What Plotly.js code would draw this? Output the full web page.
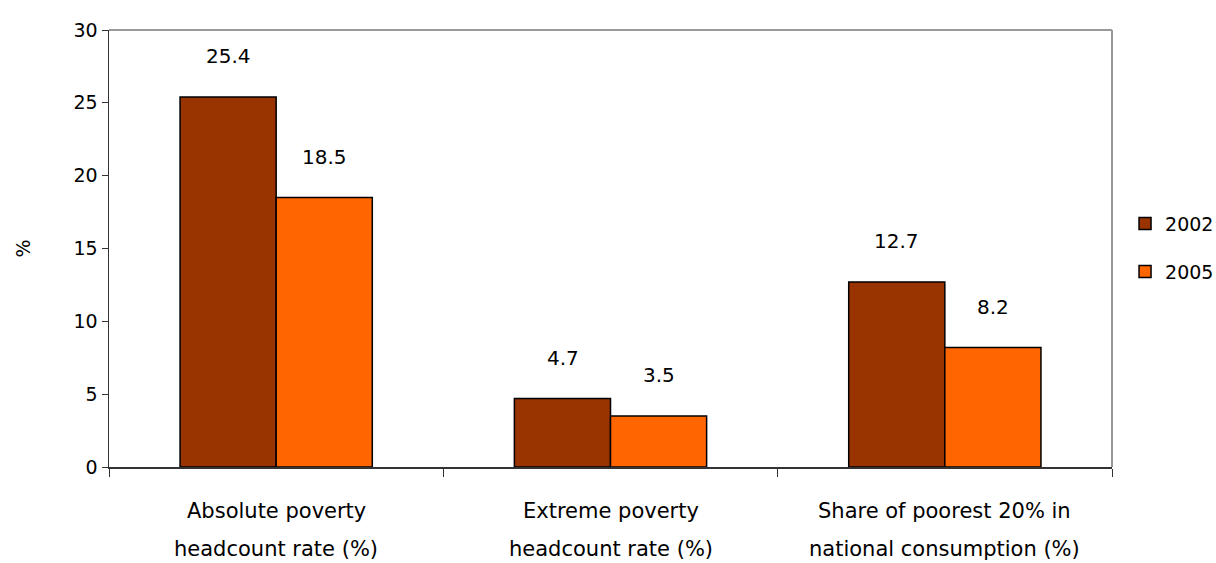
<!DOCTYPE html>
<html><head><meta charset="utf-8">
<script src="https://cdn.plot.ly/plotly-3.0.1.min.js"></script>
<style>body{margin:0;background:#fff}#c{width:1216px;height:563px}</style>
</head><body><div id="c"></div>
<script>
const categories = ["Absolute poverty headcount rate (%)", "Extreme poverty headcount rate (%)", "Share of poorest 20% in national consumption (%)"];
const labelLine1 = ["Absolute poverty", "Extreme poverty", "Share of poorest 20% in"];
const labelLine2 = ["headcount rate (%)", "headcount rate (%)", "national consumption (%)"];
const seriesNames = ["2002", "2005"];
const values2002 = [25.4, 4.7, 12.7];
const values2005 = [18.5, 3.5, 8.2];
const yTicks = [0, 5, 10, 15, 20, 25, 30];

const FONT = "DejaVu Sans";
const colors = ["#993300", "#FF6600"];
const allValues = [values2002, values2005];
const legendIds = ["legend", "legend2"];

const traces = seriesNames.map((n, i) => ({
  type: "bar", name: n, x: categories, y: allValues[i],
  marker: {color: colors[i], line: {color: "#000", width: 1.5}},
  legend: legendIds[i],
  hoverinfo: "none"
}));

const annotations = [];
const offs = [-48, 48];
allValues.forEach((vals, s) => {
  vals.forEach((v, k) => {
    annotations.push({x: categories[k], y: v, xref: "x", yref: "y", text: String(v),
      showarrow: false, xshift: offs[s], yshift: 41, font: {family: FONT, size: 20, color: "#000"}});
  });
});
categories.forEach((c, k) => {
  annotations.push({x: c, y: 0, xref: "x", yref: "paper", text: labelLine1[k], showarrow: false,
    yshift: -58, font: {family: FONT, size: 21, color: "#000"}});
  annotations.push({x: c, y: 0, xref: "x", yref: "paper", text: labelLine2[k], showarrow: false,
    yshift: -96, font: {family: FONT, size: 21, color: "#000"}});
});

const legFont = {family: FONT, size: 19, color: "#000"};
const layout = {
  width: 1216, height: 563,
  margin: {l: 109, r: 104, t: 30, b: 96, autoexpand: false},
  paper_bgcolor: "#fff", plot_bgcolor: "#fff",
  font: {family: FONT, size: 19, color: "#000"},
  bargap: 0.425, bargroupgap: 0,
  showlegend: true,
  legend: {x: 1.013, y: 0.557, xanchor: "left", yanchor: "middle", font: legFont, bgcolor: "rgba(0,0,0,0)"},
  legend2: {x: 1.013, y: 0.447, xanchor: "left", yanchor: "middle", font: legFont, bgcolor: "rgba(0,0,0,0)"},
  xaxis: {type: "category", showticklabels: false, ticks: "outside", tickson: "boundaries", ticklen: 8,
    tickcolor: "#333", showline: true, linecolor: "#333", linewidth: 1.5, mirror: false, showgrid: false, zeroline: false,
    range: [-0.5, 2.5]},
  yaxis: {range: [0, 30], tickvals: yTicks, ticktext: yTicks.map(String), ticks: "outside", ticklen: 6, tickcolor: "#333",
    tickfont: {family: FONT, size: 19},
    showline: true, linecolor: "#333", linewidth: 1.5, showgrid: false, zeroline: false,
    title: {text: "%", font: {family: FONT, size: 19}, standoff: 38}},
  shapes: [
    {type: "line", xref: "paper", yref: "paper", x0: 0, x1: 1, y0: 1, y1: 1, line: {color: "#999", width: 2}},
    {type: "line", xref: "paper", yref: "paper", x0: 1, x1: 1, y0: 0, y1: 1, line: {color: "#999", width: 2}}
  ],
  annotations: annotations
};
Plotly.newPlot("c", traces, layout, {staticPlot: true});
</script></body></html>
